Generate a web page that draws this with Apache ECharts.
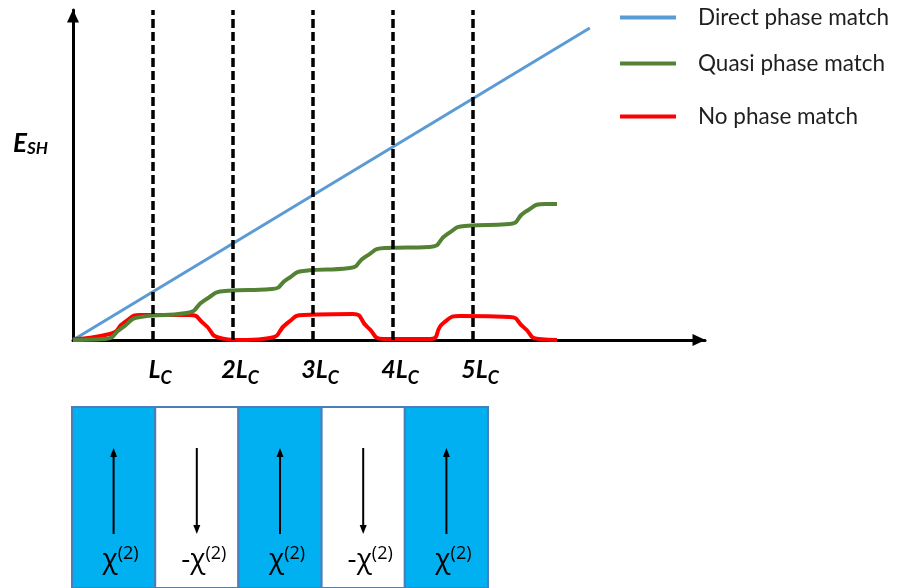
<!DOCTYPE html>
<html>
<head>
<meta charset="utf-8">
<script src="https://cdn.jsdelivr.net/npm/echarts@6/dist/echarts.min.js"></script>
<style>
  html, body { margin: 0; padding: 0; background: #ffffff; }
  #chart { width: 897px; height: 588px; }
</style>
</head>
<body>
<div id="chart"></div>
<script>
// Position along the crystal in units of the coherence length L_C,
// second-harmonic field amplitude in arbitrary units.
const crossings = [1, 2, 3, 4, 5];
const crossingPrefixes = ['', '2', '3', '4', '5'];

const directMatch = [[0, 0], [6.46, 312]];

const quasiMatch = [
  [0.00, 0], [0.40, 1], [0.61, 12], [0.84, 23], [1.42, 27],
  [1.65, 40], [1.90, 49], [2.49, 51], [2.68, 61], [2.88, 69],
  [3.46, 72], [3.65, 83], [3.90, 92], [4.46, 93], [4.68, 106],
  [4.90, 114], [5.46, 116], [5.65, 128], [5.90, 136], [6.05, 136]
];

const noMatch = [
  [0.00, 1], [0.46, 6], [0.65, 18], [0.84, 25], [1.46, 25],
  [1.64, 16], [1.84, 2], [2.09, 0], [2.46, 2], [2.68, 17],
  [2.88, 25], [3.50, 26], [3.68, 13], [3.88, 1], [4.46, 1],
  [4.63, 17], [4.84, 24], [5.46, 23], [5.63, 13], [5.82, 1], [6.05, 0]
];

// Poled domains: +1 = chi(2), -1 = -chi(2)
const domainSigns = [1, -1, 1, -1, 1];

const seriesNames = ['Direct phase match', 'Quasi phase match', 'No phase match'];
const seriesColors = ['#5b9bd5', '#548235', '#ff0000'];

const chart = echarts.init(document.getElementById('chart'), null, { renderer: 'canvas' });

const labelFont = 'Lato, "Open Sans", sans-serif';
const greekFont = '"Open Sans", "Noto Sans", sans-serif';

function legendFor(name, top) {
  return {
    data: [name],
    left: 620,
    top: top,
    padding: 0,
    icon: 'rect',
    itemWidth: 56,
    itemHeight: 4,
    selectedMode: false,
    textStyle: {
      fontFamily: labelFont,
      fontSize: 22.5,
      color: '#1f1f1f',
      padding: [0, 0, 0, 17]
    }
  };
}

function renderDomain(params, api) {
  const i = api.value(0);
  const sign = api.value(1);
  const p0 = api.coord([i, 1]);
  const p1 = api.coord([i + 1, 0]);
  const x0 = p0[0], y0 = p0[1];
  const w = p1[0] - p0[0], h = p1[1] - p0[1];
  const cx = x0 + w / 2;
  const up = sign > 0;
  const aTop = y0 + 41, aBot = y0 + 127;
  const headH = 9, headW = 7;
  const tip = up ? aTop : aBot;
  const base = up ? aTop + headH : aBot - headH;
  return {
    type: 'group',
    children: [
      {
        type: 'rect',
        shape: { x: x0, y: y0, width: w, height: h },
        style: { fill: up ? '#00b0f0' : '#ffffff', stroke: '#4a7ebb', lineWidth: 2 }
      },
      {
        type: 'line',
        shape: { x1: cx, y1: up ? aBot : aTop, x2: cx, y2: base },
        style: { stroke: '#000000', lineWidth: 2 }
      },
      {
        type: 'polygon',
        shape: { points: [[cx, tip], [cx - headW / 2, base], [cx + headW / 2, base]] },
        style: { fill: '#000000' }
      },
      {
        type: 'text',
        x: cx + 7,
        y: y0 + 153,
        style: {
          text: (up ? '' : '{c|-}') + '{c|χ}{s|(2)}',
          align: 'center',
          verticalAlign: 'middle',
          rich: {
            c: { fontFamily: greekFont, fontSize: 28, lineHeight: 30, color: '#111111', verticalAlign: 'middle' },
            s: { fontFamily: greekFont, fontSize: 18, lineHeight: 19, color: '#111111', verticalAlign: 'top' }
          }
        }
      }
    ]
  };
}

const option = {
  animation: false,
  backgroundColor: '#ffffff',
  legend: [
    legendFor(seriesNames[0], 6),
    legendFor(seriesNames[1], 52),
    legendFor(seriesNames[2], 105)
  ],
  grid: [
    { left: 73, right: 192, top: 10, bottom: 248, containLabel: false },
    { left: 72, right: 409, top: 407, bottom: -20, containLabel: false }
  ],
  xAxis: [
    {
      type: 'value',
      gridIndex: 0,
      min: 0,
      max: 7.9,
      interval: 1,
      splitLine: { show: false },
      axisTick: { show: false },
      axisLine: {
        onZero: false,
        symbol: ['none', 'triangle'],
        symbolSize: [12, 13],
        symbolOffset: [0, -6],
        lineStyle: { color: '#000000', width: 3 }
      },
      axisLabel: {
        margin: 21,
        padding: [0, 0, 0, 14],
        formatter: function (v) {
          const k = crossings.indexOf(v);
          if (k < 0) return '';
          return (crossingPrefixes[k] ? '{n|' + crossingPrefixes[k] + '}' : '') + '{n|L}{s|C}';
        },
        rich: {
          n: { fontFamily: labelFont, fontWeight: 'bold', fontStyle: 'italic', fontSize: 25, lineHeight: 25, padding: [0, 0, 8, 0], color: '#000000', verticalAlign: 'middle' },
          s: { fontFamily: labelFont, fontWeight: 'bold', fontStyle: 'italic', fontSize: 18, lineHeight: 17, padding: [10, 0, 0, 0], color: '#000000', verticalAlign: 'middle' }
        }
      }
    },
    {
      type: 'value',
      gridIndex: 1,
      min: 0,
      max: 5,
      show: false
    }
  ],
  yAxis: [
    {
      type: 'value',
      gridIndex: 0,
      min: 0,
      max: 330,
      splitLine: { show: false },
      axisTick: { show: false },
      axisLabel: { show: false },
      axisLine: {
        show: true,
        onZero: false,
        symbol: ['none', 'triangle'],
        symbolSize: [12, 13],
        symbolOffset: [0, -6],
        lineStyle: { color: '#000000', width: 3 }
      },
      name: '{e|E}{s|SH}',
      nameLocation: 'middle',
      nameRotate: 0,
      nameGap: 25,
      nameTextStyle: {
        padding: [0, 0, 62, 0],
        rich: {
          e: { fontFamily: labelFont, fontWeight: 'bold', fontStyle: 'italic', fontSize: 26, lineHeight: 27, color: '#000000', verticalAlign: 'top' },
          s: { fontFamily: labelFont, fontWeight: 'bold', fontStyle: 'italic', fontSize: 17, lineHeight: 16, padding: [15, 0, 0, 0], color: '#000000', verticalAlign: 'bottom' }
        }
      }
    },
    {
      type: 'value',
      gridIndex: 1,
      min: 0,
      max: 1,
      show: false
    }
  ],
  series: [
    {
      name: seriesNames[0],
      type: 'line',
      xAxisIndex: 0,
      yAxisIndex: 0,
      data: directMatch,
      symbol: 'none',
      color: seriesColors[0],
      lineStyle: { width: 3, color: seriesColors[0] },
      z: 2
    },
    {
      name: seriesNames[2],
      type: 'line',
      xAxisIndex: 0,
      yAxisIndex: 0,
      data: noMatch,
      symbol: 'none',
      smooth: 0.6,
      color: seriesColors[2],
      lineStyle: { width: 4, color: seriesColors[2] },
      z: 3
    },
    {
      name: seriesNames[1],
      type: 'line',
      xAxisIndex: 0,
      yAxisIndex: 0,
      data: quasiMatch,
      symbol: 'none',
      smooth: 0.6,
      color: seriesColors[1],
      lineStyle: { width: 4, color: seriesColors[1] },
      z: 4
    },
    {
      // Domain boundaries at each coherence length
      name: 'crossings',
      type: 'line',
      xAxisIndex: 0,
      yAxisIndex: 0,
      data: [],
      z: 6,
      silent: true,
      markLine: {
        silent: true,
        symbol: ['none', 'none'],
        label: { show: false },
        lineStyle: { color: '#000000', width: 3.5, type: [9, 4] },
        data: crossings.map(function (c) { return { xAxis: c }; })
      }
    },
    {
      name: 'domains',
      type: 'custom',
      xAxisIndex: 1,
      yAxisIndex: 1,
      silent: true,
      clip: false,
      data: domainSigns.map(function (s, i) { return [i, s]; }),
      renderItem: renderDomain
    }
  ]
};

chart.setOption(option);
</script>
</body>
</html>
